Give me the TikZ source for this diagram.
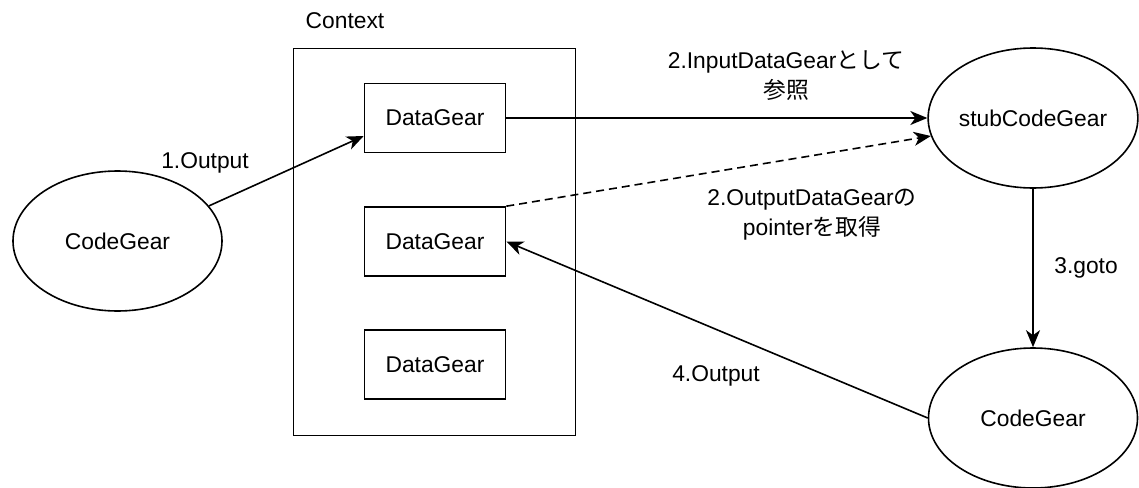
\documentclass[tikz,border=0pt]{standalone}
\usepackage{fontspec}
\setmainfont{Liberation Sans}
\newfontfamily\cjk{Noto Sans CJK JP}
\usetikzlibrary{shapes.geometric}
\usetikzlibrary{arrows.meta}
\usetikzlibrary{positioning}
\tikzstyle{gear_code}=[ellipse, draw=black, line width=1.6pt, minimum width=209pt, minimum height=140pt, inner sep=0pt]
\tikzstyle{gear_data}=[rectangle, draw=black, line width=1.6pt, minimum width=141pt, minimum height=69pt]
\tikzstyle{gear_edge}=[line width=1.6pt, -{Stealth[length=17pt,width=14pt,inset=5pt]}]
\tikzstyle{gear_label}=[align=center, inner sep=0pt]

\begin{document}
\begin{tikzpicture}[x=1pt, y=-1pt, font=\fontsize{22.8pt}{30pt}\selectfont]
          \useasboundingbox (0,0) rectangle (1139,487);
          % context with its data gears
          \node[rectangle, draw=black, line width=1.6pt, minimum width=282pt, minimum height=387pt] (ctx) at (434.5,242){};
          \node[gear_label] (ctxname) at (345,21){Context};
          \node[gear_data] (dg0) at (435,118){DataGear};
          \node[gear_data] (dg1) at (435,241.5){DataGear};
          \node[gear_data] (dg2) at (435,364.5){DataGear};
          % code gears
          \node[gear_code] (cg0) at (117.5,241){CodeGear};
          \node[gear_code] (stub) at (1033,118){stubCodeGear};
          \node[gear_code] (cg1) at (1033,418){CodeGear};
          % edges
          \draw[gear_edge](cg0.21.8) -- ([yshift=-18pt]dg0.west);
          \draw[gear_edge](dg0.east) -- (stub.west);
          \draw[gear_edge, dash pattern=on 8pt off 5pt](dg1.north east) -- (stub.190);
          \draw[gear_edge](stub.south) -- (cg1.north);
          \draw[gear_edge](cg1.west) -- (dg1.east);
          % edge labels
          \node[gear_label] (lbl1) at (205,163){1.Output};
          \node[gear_label] (lbl2in) at (786,76){2.InputDataGear{\cjk として}\\{\cjk 参照}};
          \node[gear_label] (lbl2out) at (812,215){2.OutputDataGear{\cjk の}\\pointer{\cjk を取得}};
          \node[gear_label] (lbl3) at (1086,268){3.goto};
          \node[gear_label] (lbl4) at (716,376){4.Output};
        \end{tikzpicture}
\end{document}
